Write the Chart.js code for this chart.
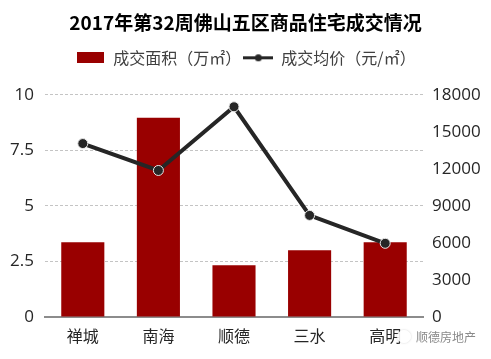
<!DOCTYPE html>
<html lang="zh">
<head>
  <meta charset="UTF-8">
  <title>2017年第32周佛山五区商品住宅成交情况</title>
  <script src="https://cdn.jsdelivr.net/npm/chart.js"></script>
  <style>
    html, body { margin: 0; padding: 0; background: #fff; overflow: hidden; }
    #wrap { position: relative; width: 491px; height: 359px; }
    canvas { display: block; }
    /* wechat style watermark over the bottom right corner */
    #mark-icon {
      position: absolute; left: 397px; top: 330px; width: 14px; height: 13px;
      border-radius: 50%; background: rgba(255,255,255,0.9);
      box-shadow: 0 0 2px rgba(190,190,190,0.8);
    }
    #mark-text {
      position: absolute; left: 416px; top: 328px; font: 12px "Noto Sans CJK SC", sans-serif;
      line-height: 18px; color: #8a8a8a; white-space: nowrap;
    }
  </style>
</head>
<body>
  <div id="wrap">
    <canvas id="myChart" width="491" height="359"></canvas>
    <div id="mark-icon"></div>
    <div id="mark-text">顺德房地产</div>
  </div>

  <script>
    var categories = ['禅城', '南海', '顺德', '三水', '高明'];
    var areaValues = [3.36, 8.97, 2.33, 3.0, 3.36];
    var priceValues = [14050, 11870, 17030, 8230, 5970];
    var areaTicks = [0, 2.5, 5, 7.5, 10];
    var areaLabel = '成交面积（万㎡）';
    var priceLabel = '成交均价（元/㎡）';
    var titleText = '2017年第32周佛山五区商品住宅成交情况';

    var FONT = '"Noto Sans CJK SC", "Noto Sans", sans-serif';
    var NUM_FONT = '"Open Sans", "Noto Sans", sans-serif';
    var RED = '#990000';
    var DARK = '#262626';

    // legend swatches, the built in ones can't do a wide rect or a line with a dot
    function barSwatch() {
      var c = document.createElement('canvas');
      c.width = 27; c.height = 11;
      var g = c.getContext('2d');
      g.fillStyle = RED;
      g.fillRect(0, 0, 27, 11);
      return c;
    }
    function lineSwatch() {
      var c = document.createElement('canvas');
      c.width = 30; c.height = 11;
      var g = c.getContext('2d');
      g.fillStyle = DARK;
      g.fillRect(0, 4, 30, 3);
      g.beginPath();
      g.arc(15, 5.5, 3.5, 0, Math.PI * 2);
      g.fill();
      return c;
    }

    // pushes the plot area down below the legend
    var legendGap = {
      id: 'legendGap',
      beforeInit: function (chart) {
        var fit = chart.legend.fit;
        chart.legend.fit = function () {
          fit.call(this);
          this.height += 19;
        };
      }
    };

    new Chart(document.getElementById('myChart').getContext('2d'), {
      plugins: [legendGap],
      data: {
        labels: categories,
        datasets: [
          {
            type: 'line',
            label: priceLabel,
            data: priceValues,
            yAxisID: 'y1',
            order: 1,
            borderColor: DARK,
            borderWidth: 4,
            pointBackgroundColor: DARK,
            pointBorderColor: '#e8e8e8',
            pointBorderWidth: 1,
            pointRadius: 5,
            tension: 0
          },
          {
            type: 'bar',
            label: areaLabel,
            data: areaValues,
            yAxisID: 'y',
            order: 2,
            backgroundColor: RED,
            categoryPercentage: 1,
            barPercentage: 0.57
          }
        ]
      },
      options: {
        responsive: false,
        animation: false,
        plugins: {
          tooltip: { enabled: false },
          title: {
            display: true,
            text: titleText,
            color: '#000',
            font: { family: FONT, size: 19, weight: 'bold' },
            padding: { top: 11, bottom: 14 }
          },
          legend: {
            display: true,
            position: 'top',
            labels: {
              usePointStyle: true,
              pointStyleWidth: 30,
              color: '#404040',
              font: { family: FONT, size: 16 },
              padding: 2,
              generateLabels: function () {
                return [
                  { text: areaLabel, pointStyle: barSwatch(), datasetIndex: 1, fontColor: '#404040', lineWidth: 0, strokeStyle: 'transparent', fillStyle: RED },
                  { text: priceLabel, pointStyle: lineSwatch(), datasetIndex: 0, fontColor: '#404040', lineWidth: 0, strokeStyle: 'transparent', fillStyle: DARK }
                ];
              }
            }
          }
        },
        scales: {
          x: {
            grid: { display: false, drawTicks: false },
            border: { color: '#8c8c8c', width: 2 },
            ticks: { color: '#262626', font: { family: FONT, size: 16 }, padding: 9, maxRotation: 0 },
            afterFit: function (s) { s.height = 42; }
          },
          y: {
            position: 'left',
            min: 0,
            max: 10,
            afterBuildTicks: function (s) {
              s.ticks = areaTicks.map(function (v) { return { value: v }; });
            },
            grid: { color: '#c4c4c4', lineWidth: 1, drawTicks: false },
            border: { display: false, dash: [3, 2] },
            ticks: {
              color: '#262626',
              font: { family: NUM_FONT, size: 17 },
              padding: 11,
              callback: function (v) { return String(v); }
            },
            afterFit: function (s) { s.width = 45; }
          },
          y1: {
            position: 'right',
            min: 0,
            max: 18000,
            grid: { display: false, drawTicks: false },
            border: { display: false },
            ticks: {
              stepSize: 3000,
              color: '#262626',
              font: { family: NUM_FONT, size: 17 },
              padding: 9,
              callback: function (v) { return String(v); }
            },
            afterFit: function (s) { s.width = 68; }
          }
        }
      }
    });
  </script>
</body>
</html>
